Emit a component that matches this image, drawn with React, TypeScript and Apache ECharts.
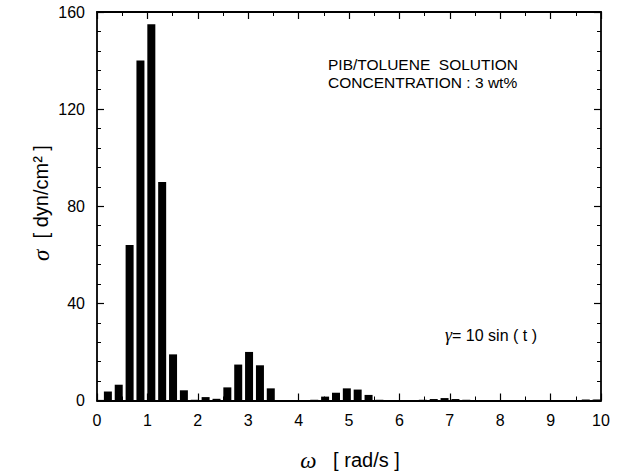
import React, { useEffect, useRef } from "react";
import * as echarts from "echarts";

// Frequency bins (rad/s) and stress amplitudes (dyn/cm^2)
const omega: number[] = [
  0.216, 0.431, 0.647, 0.862, 1.078, 1.293, 1.509, 1.724, 1.94, 2.155,
  2.371, 2.586, 2.802, 3.017, 3.233, 3.448, 3.664, 3.88, 4.095, 4.311,
  4.526, 4.742, 4.957, 5.172, 5.388, 5.603, 5.819, 6.034, 6.25, 6.465,
  6.681, 6.896, 7.112, 7.327, 7.543, 7.758, 7.974, 8.189, 8.405, 8.62,
  8.836, 9.051, 9.267, 9.482, 9.698, 9.913,
];
const sigma: number[] = [
  3.7, 6.5, 64, 140, 155, 90, 19, 4.2, 0.3, 1.4,
  0.7, 5.4, 14.8, 20, 14.5, 5, 0.2, 0.1, 0.1, 0.3,
  1.6, 3.2, 5, 4.5, 2.3, 0.3, 0.2, 0.1, 0.2, 0.3,
  0.6, 1.0, 0.6, 0.3, 0.2, 0.2, 0.1, 0.2, 0.2, 0.2,
  0.1, 0.2, 0.2, 0.2, 0.4, 0.4,
];
const yTicks: number[] = [0, 40, 80, 120, 160];
const xTicks: number[] = [0, 1, 2, 3, 4, 5, 6, 7, 8, 9, 10];

const SANS = "Liberation Sans, Arial, sans-serif";
const SERIF = "Liberation Serif, Times New Roman, serif";

export default function App() {
  const ref = useRef<HTMLDivElement>(null);
  useEffect(() => {
    if (!ref.current) return;
    const chart = echarts.init(ref.current, undefined, { renderer: "svg" });
    const axisCommon = {
      axisLine: { show: true, onZero: false, lineStyle: { color: "#000", width: 1.8 } },
      axisTick: { show: true, inside: true, length: 7, lineStyle: { color: "#000", width: 1.2 } },
      minorTick: { show: true, length: 4, lineStyle: { color: "#000", width: 1 } },
      splitLine: { show: false },
    };
    const xBase = {
      type: "value" as const,
      min: xTicks[0],
      max: xTicks[xTicks.length - 1],
      interval: 1,
      ...axisCommon,
      minorTick: { ...axisCommon.minorTick, splitNumber: 2 },
    };
    const yBase = {
      type: "value" as const,
      min: yTicks[0],
      max: yTicks[yTicks.length - 1],
      interval: 40,
      ...axisCommon,
      minorTick: { ...axisCommon.minorTick, splitNumber: 5 },
    };
    chart.setOption({
      animation: false,
      backgroundColor: "#fff",
      grid: { left: 97, right: 21, top: 12, bottom: 72.5, containLabel: false },
      xAxis: [
        {
          ...xBase,
          position: "bottom",
          axisLabel: { show: true, color: "#000", fontSize: 16, fontFamily: SANS, margin: 12 },
        },
        { ...xBase, position: "top", axisLabel: { show: false } },
      ],
      yAxis: [
        {
          ...yBase,
          position: "left",
          axisLabel: { show: true, color: "#000", fontSize: 16, fontFamily: SANS, margin: 12 },
        },
        { ...yBase, position: "right", axisLabel: { show: false } },
      ],
      series: [
        {
          type: "bar",
          xAxisIndex: 0,
          yAxisIndex: 0,
          barWidth: 8,
          itemStyle: { color: "#000" },
          data: omega.map((w, i) => [w, sigma[i]]),
        },
      ],
      graphic: [
        {
          type: "text",
          x: 41,
          y: 203,
          rotation: Math.PI / 2,
          style: {
            text: "{s|σ}  [ dyn/cm² ]",
            fontFamily: SANS,
            fontSize: 20,
            fill: "#000",
            align: "center",
            verticalAlign: "middle",
            rich: {
              s: { fontFamily: SERIF, fontStyle: "italic", fontSize: 23, fill: "#000" },
            },
          },
        },
        {
          type: "text",
          x: 350,
          y: 460,
          style: {
            text: "{w|ω}   [ rad/s ]",
            fontFamily: SANS,
            fontSize: 20,
            fill: "#000",
            align: "center",
            verticalAlign: "middle",
            rich: {
              w: { fontFamily: SERIF, fontStyle: "italic", fontSize: 23, fill: "#000" },
            },
          },
        },
        {
          type: "text",
          x: 328,
          y: 64,
          style: {
            text: "PIB/TOLUENE  SOLUTION",
            fontFamily: SANS,
            fontSize: 15.5,
            fill: "#000",
            align: "left",
            verticalAlign: "middle",
          },
        },
        {
          type: "text",
          x: 328,
          y: 82,
          style: {
            text: "CONCENTRATION : 3 wt%",
            fontFamily: SANS,
            fontSize: 15.5,
            fill: "#000",
            align: "left",
            verticalAlign: "middle",
          },
        },
        {
          type: "text",
          x: 445,
          y: 335,
          style: {
            text: "{g|γ}= 10 sin ( t )",
            fontFamily: SANS,
            fontSize: 16,
            fill: "#000",
            align: "left",
            verticalAlign: "middle",
            rich: {
              g: { fontFamily: SERIF, fontStyle: "italic", fontSize: 18, fill: "#000" },
            },
          },
        },
      ],
    });
    return () => chart.dispose();
  }, []);
  return (
    <div
      ref={ref}
      style={{ position: "fixed", left: 0, top: 0, width: 622, height: 473, background: "#fff" }}
    />
  );
}
